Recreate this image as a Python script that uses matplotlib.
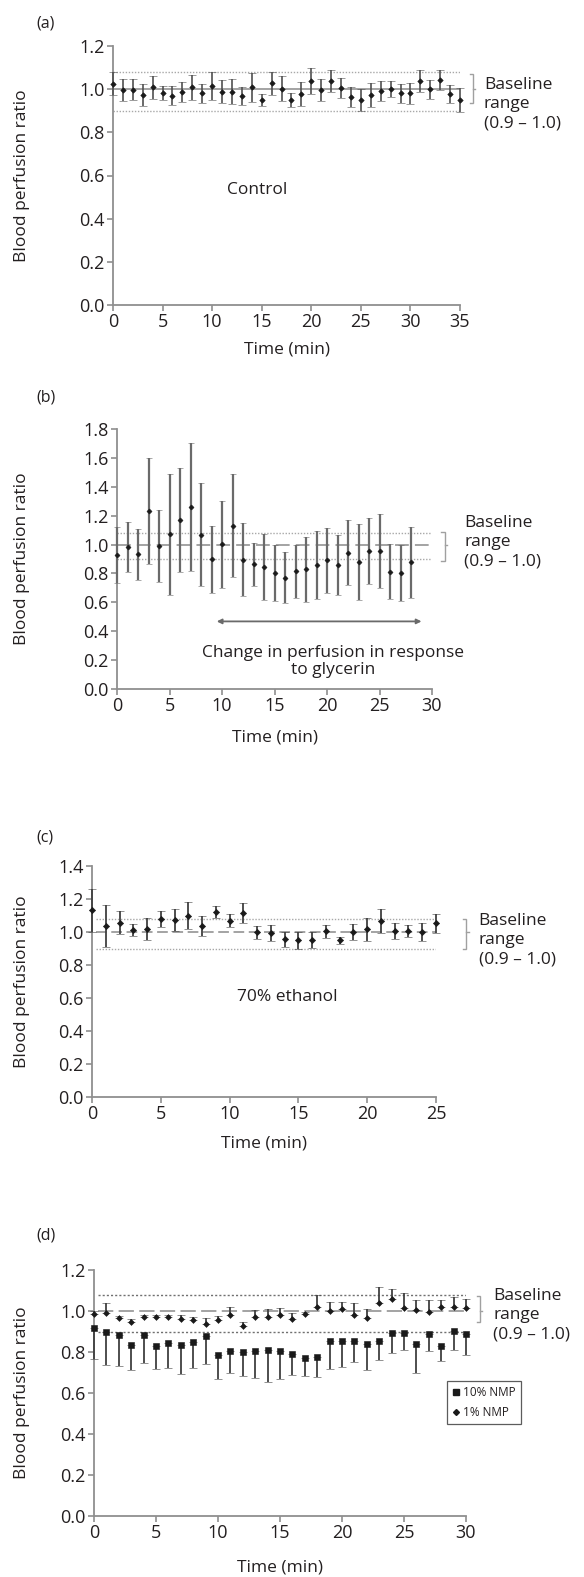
import matplotlib
matplotlib.use("Agg")
import matplotlib.pyplot as plt
import numpy as np

plt.rcParams['font.family'] = ['Open Sans', 'DejaVu Sans']

# ---------------- data ----------------
# (a) Control
a_time = list(range(36))
a_mean = [1.026, 0.997, 0.997, 0.973, 1.008, 0.982, 0.969, 0.988, 1.008, 0.980,
          1.015, 0.989, 0.989, 0.969, 1.008, 0.950, 1.027, 1.003, 0.950, 0.977,
          1.038, 0.995, 1.038, 1.005, 0.965, 0.950, 0.974, 0.992, 1.003, 0.980,
          0.980, 1.038, 1.000, 1.041, 0.977, 0.951]
a_err = [0.055, 0.050, 0.048, 0.052, 0.053, 0.033, 0.044, 0.046, 0.057, 0.042,
         0.063, 0.055, 0.060, 0.043, 0.066, 0.029, 0.054, 0.057, 0.033, 0.056,
         0.060, 0.051, 0.052, 0.045, 0.047, 0.053, 0.055, 0.048, 0.037, 0.042,
         0.048, 0.049, 0.044, 0.047, 0.040, 0.056]

# (b) Glycerin
b_time = list(range(29))
b_mean = [0.927, 0.984, 0.933, 1.232, 0.991, 1.071, 1.170, 1.259, 1.067, 0.897,
          1.002, 1.131, 0.894, 0.862, 0.844, 0.803, 0.771, 0.814, 0.830, 0.858,
          0.890, 0.858, 0.945, 0.878, 0.954, 0.954, 0.812, 0.803, 0.878]
b_err = [0.194, 0.175, 0.178, 0.364, 0.247, 0.420, 0.362, 0.443, 0.356, 0.232,
         0.302, 0.358, 0.253, 0.147, 0.230, 0.193, 0.176, 0.181, 0.225, 0.235,
         0.228, 0.209, 0.224, 0.263, 0.230, 0.257, 0.190, 0.194, 0.247]

# (c) 70% ethanol
c_time = list(range(26))
c_mean = [1.133, 1.036, 1.056, 1.012, 1.018, 1.078, 1.072, 1.099, 1.038, 1.121,
          1.068, 1.117, 0.997, 0.995, 0.957, 0.949, 0.951, 1.005, 0.951, 0.999,
          1.016, 1.066, 1.005, 1.005, 1.001, 1.052]
c_err = [0.130, 0.128, 0.069, 0.034, 0.068, 0.050, 0.067, 0.080, 0.060, 0.038,
         0.040, 0.060, 0.040, 0.050, 0.045, 0.052, 0.050, 0.040, 0.021, 0.050,
         0.068, 0.074, 0.047, 0.035, 0.055, 0.059]

# (d) NMP
d_time = list(range(31))
d10_mean = [0.918, 0.899, 0.881, 0.833, 0.884, 0.828, 0.845, 0.833, 0.848, 0.876,
            0.784, 0.805, 0.802, 0.805, 0.812, 0.805, 0.792, 0.771, 0.777, 0.853,
            0.853, 0.853, 0.838, 0.853, 0.894, 0.894, 0.841, 0.887, 0.828, 0.903,
            0.890]
d10_low = [0.768, 0.735, 0.730, 0.710, 0.746, 0.718, 0.722, 0.694, 0.722, 0.743,
           0.669, 0.699, 0.684, 0.673, 0.653, 0.669, 0.686, 0.682, 0.678, 0.717,
           0.727, 0.751, 0.710, 0.759, 0.797, 0.812, 0.699, 0.804, 0.755, 0.812,
           0.784]
d1_mean = [0.984, 0.992, 0.967, 0.948, 0.969, 0.969, 0.972, 0.961, 0.956, 0.939,
           0.956, 0.979, 0.926, 0.972, 0.972, 0.979, 0.959, 0.984, 1.021, 1.002,
           1.010, 0.980, 0.964, 1.038, 1.057, 1.013, 1.005, 0.993, 1.021, 1.021,
           1.013]
d1_high = [1.000, 1.041, 0.975, 0.959, 0.980, 0.980, 0.982, 0.980, 0.972, 0.964,
           0.975, 1.021, 0.948, 1.005, 1.008, 1.013, 0.992, 0.997, 1.079, 1.046,
           1.046, 1.038, 1.008, 1.115, 1.106, 1.087, 1.054, 1.054, 1.054, 1.070,
           1.059]

baseline_hi = 1.08
baseline_lo = 0.90
baseline_mid = 1.0
baseline_text = "Baseline\nrange\n(0.9 \u2013 1.0)"
ylabel = "Blood perfusion ratio"
xlabel = "Time (min)"

# ---------------- layout ----------------
W, H = 584, 1577
fig = plt.figure(figsize=(W / 100, H / 100), dpi=100)

TXT = '#231f20'
SPINE = '#8f8f8f'
FS = 12.5


def px_axes(left, right, top, bottom):
    return fig.add_axes([left / W, 1 - bottom / H, (right - left) / W, (bottom - top) / H])


def style(ax, xmax, ymax, xstep=5):
    ax.set_xlim(0, xmax)
    ax.set_ylim(0, ymax)
    ax.set_xticks(np.arange(0, xmax + 0.01, xstep))
    ax.set_yticks(np.arange(0, ymax + 0.001, 0.2))
    ax.yaxis.set_major_formatter(matplotlib.ticker.FormatStrFormatter('%.1f'))
    for s in ['top', 'right']:
        ax.spines[s].set_visible(False)
    for s in ['left', 'bottom']:
        ax.spines[s].set_color(SPINE)
        ax.spines[s].set_linewidth(1.3)
    ax.tick_params(direction='out', length=4, width=1.2, color=SPINE,
                   labelsize=FS + 0.5, labelcolor=TXT, pad=2)
    ax.patch.set_alpha(0)


def labels(ax, tag, top, bottom, left, right, tag_y, xl_y):
    fig.text(22 / W, 1 - (top + bottom) / 2 / H, ylabel, rotation=90,
             ha='center', va='center', fontsize=FS, color=TXT)
    fig.text((left + right) / 2 / W, 1 - xl_y / H, xlabel, ha='center',
             va='center', fontsize=FS, color=TXT)
    fig.text(36 / W, 1 - tag_y / H, tag, ha='left', va='center',
             fontsize=FS - 1, color=TXT)


def bracket(ax, x, y0, y1, ym, w):
    ax.plot([x - w, x, x, x - w], [y1, y1, y0, y0], color='#a0a0a0', lw=1.0,
            clip_on=False, solid_joinstyle='miter')
    ax.plot([x, x + w * 0.8], [ym, ym], color='#a0a0a0', lw=1.0, clip_on=False)


def hlines(ax, xmax, mid_style, dot_color='#a8a8a8', dot_style=(0, (1, 1.2)),
           x0=0.0):
    ax.plot([x0, xmax], [baseline_hi, baseline_hi], color=dot_color, lw=1.0,
            linestyle=dot_style, zorder=1)
    ax.plot([x0, xmax], [baseline_lo, baseline_lo], color=dot_color, lw=1.0,
            linestyle=dot_style, zorder=1)
    ax.plot([x0, xmax], [baseline_mid, baseline_mid], color='#8a8a8a', lw=1.1,
            linestyle=mid_style, zorder=1)


def unclip(eb):
    eb.lines[0].set_clip_on(False)
    for art in eb.lines[1]:
        art.set_clip_on(False)
    for art in eb.lines[2]:
        art.set_clip_on(False)


# ---- (a) ----
la, ra, ta, ba = 113, 460, 46, 305
ax = px_axes(la, ra, ta, ba)
style(ax, 35, 1.2)
hlines(ax, 35, '-')
eb = ax.errorbar(a_time, a_mean, yerr=a_err, fmt='D', color='#1a1a1a', ms=2.8,
                 mew=0.4, ecolor='#505050', elinewidth=1.2, capsize=2.8,
                 capthick=1.2, zorder=3)
unclip(eb)
ax.text(14.5, 0.535, "Control", ha='center', va='center', fontsize=FS, color=TXT)
bracket(ax, 36.3, 0.935, 1.07, 1.0, 0.3)
ax.text(37.4, 0.93, baseline_text, ha='left', va='center', fontsize=FS,
        color=TXT, linespacing=1.25, clip_on=False)
labels(ax, "(a)", ta, ba, la, ra, 23, 350)

# ---- (b) ----
lb, rb, tb, bb = 117, 432, 429, 689
ax = px_axes(lb, rb, tb, bb)
style(ax, 30, 1.8)
hlines(ax, 30, (0, (9, 4)))
eb = ax.errorbar(b_time, b_mean, yerr=b_err, fmt='D', color='#1a1a1a', ms=2.6,
                 mew=0.4, ecolor='#6a6a6a', elinewidth=1.6, capsize=2.3,
                 capthick=1.4, zorder=3)
unclip(eb)
ax.annotate('', xy=(9.5, 0.468), xytext=(29.0, 0.468),
            arrowprops=dict(arrowstyle='<|-|>', color='#6a6a6a', lw=1.3,
                            mutation_scale=7, shrinkA=0, shrinkB=0))
ax.text(20.6, 0.19, "Change in perfusion in response\nto glycerin", ha='center',
        va='center', fontsize=FS, color=TXT, linespacing=1.15)
bracket(ax, 31.2, 0.885, 1.085, 1.0, 0.3)
ax.text(33.05, 1.015, baseline_text, ha='left', va='center', fontsize=FS,
        color=TXT, linespacing=1.25, clip_on=False)
labels(ax, "(b)", tb, bb, lb, rb, 398, 737)

# ---- (c) ----
lc, rc, tc, bc = 92, 436, 866, 1097
ax = px_axes(lc, rc, tc, bc)
style(ax, 25, 1.4)
hlines(ax, 25.3, (0, (7, 3)), x0=0.3)
eb = ax.errorbar(c_time, c_mean, yerr=c_err, fmt='D', color='#1a1a1a', ms=3.2,
                 mew=0.4, ecolor='#404040', elinewidth=1.3, capsize=3.0,
                 capthick=1.3, zorder=3)
unclip(eb)
ax.text(14.2, 0.605, "70% ethanol", ha='center', va='center', fontsize=FS,
        color=TXT)
bracket(ax, 27.2, 0.90, 1.078, 1.0, 0.22)
ax.text(28.1, 0.95, baseline_text, ha='left', va='center', fontsize=FS,
        color=TXT, linespacing=1.25, clip_on=False)
labels(ax, "(c)", tc, bc, lc, rc, 837, 1144)

# ---- (d) ----
ld, rd, td, bd = 94, 466, 1270, 1516
ax = px_axes(ld, rd, td, bd)
style(ax, 30, 1.2)
hlines(ax, 30.6, (0, (10, 3.5)), dot_color='#707070', dot_style=(0, (1.5, 1.5)),
       x0=0.3)
d10_m = np.array(d10_mean)
d10_lo = d10_m - np.array(d10_low)
d1_m = np.array(d1_mean)
d1_hi = np.array(d1_high) - d1_m
zeros = np.zeros(len(d_time))
eb1 = ax.errorbar(d_time, d10_mean, yerr=[d10_lo, zeros], fmt='s',
                  color='#1a1a1a', ms=3.8, mew=0.4, ecolor='#404040',
                  elinewidth=1.3, capsize=3.0, capthick=1.3, zorder=3,
                  label='10% NMP')
eb2 = ax.errorbar(d_time, d1_mean, yerr=[zeros, d1_hi], fmt='D',
                  color='#1a1a1a', ms=3.0, mew=0.4, ecolor='#404040',
                  elinewidth=1.3, capsize=3.0, capthick=1.3, zorder=3,
                  label='1% NMP')
unclip(eb1)
unclip(eb2)
bracket(ax, 31.1, 0.946, 1.073, 1.0, 0.25)
ax.text(32.2, 0.98, baseline_text, ha='left', va='center', fontsize=FS,
        color=TXT, linespacing=1.25, clip_on=False)
h1 = plt.Line2D([], [], marker='s', ls='none', color='#1a1a1a', ms=3.8)
h2 = plt.Line2D([], [], marker='D', ls='none', color='#1a1a1a', ms=3.0)
leg = fig.legend([h1, h2], ['10% NMP', '1% NMP'], loc='upper left',
                 bbox_to_anchor=(447 / W, 1 - 1381 / H), fontsize=8.5,
                 frameon=True, fancybox=False, edgecolor='#333333',
                 handlelength=0.6, handletextpad=0.3, borderpad=0.45,
                 labelspacing=0.55, borderaxespad=0)
leg.get_frame().set_linewidth(0.9)
for t in leg.get_texts():
    t.set_color(TXT)
labels(ax, "(d)", td, bd, ld, rd, 1236, 1567)

fig.savefig("out.png", dpi=100, facecolor='white')
